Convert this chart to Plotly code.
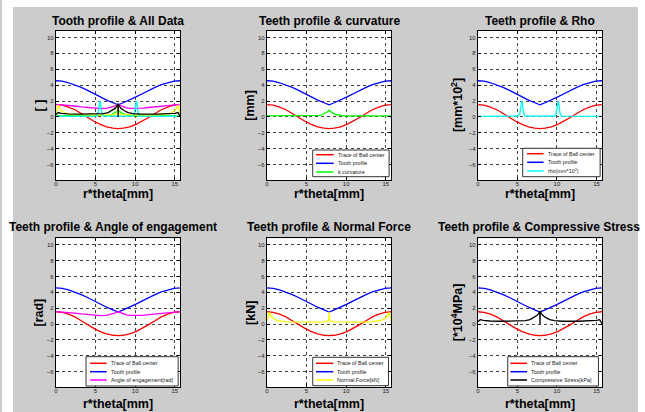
import plotly.graph_objects as go

W, H = 645, 412

# ---------------- data ----------------
x_ball = [0, 0.8, 1.6, 2.4, 3.2, 4.0, 4.8, 5.6, 6.4, 7.2, 7.85, 8.5, 9.3, 10.1, 10.9, 11.7, 12.5, 13.3, 14.1, 14.9, 15.71]
y_ball = [1.55, 1.47, 1.24, 0.9, 0.42, -0.08, -0.55, -0.95, -1.25, -1.42, -1.47, -1.42, -1.25, -0.95, -0.55, -0.08, 0.42, 0.9, 1.24, 1.47, 1.55]

x_tooth = [0, 0.8, 1.6, 2.4, 3.2, 4.0, 4.8, 5.6, 6.4, 7.2, 7.85, 8.5, 9.3, 10.1, 10.9, 11.7, 12.5, 13.3, 14.1, 14.9, 15.71]
y_tooth = [4.55, 4.5, 4.3, 4.05, 3.72, 3.35, 2.92, 2.52, 2.12, 1.78, 1.52, 1.78, 2.12, 2.52, 2.92, 3.35, 3.72, 4.05, 4.3, 4.5, 4.55]

x_curv = [0, 2, 4, 6, 6.6, 7.0, 7.4, 7.7, 7.85, 8.0, 8.3, 8.7, 9.1, 9.7, 11.7, 13.7, 15.71]
y_curv = [0.12, 0.12, 0.12, 0.14, 0.2, 0.3, 0.48, 0.68, 0.85, 0.68, 0.48, 0.3, 0.2, 0.14, 0.12, 0.12, 0.12]

x_rho = [0, 2, 4, 5.1, 5.3, 5.42, 5.5, 5.55, 5.6, 5.68, 5.8, 6.0, 7.85,
         9.7, 9.9, 10.02, 10.1, 10.15, 10.2, 10.28, 10.4, 10.6, 12, 14, 15.71]
y_rho = [0.07, 0.07, 0.07, 0.1, 0.4, 1.3, 1.9, 2.0, 1.9, 1.3, 0.4, 0.1, 0.07,
         0.1, 0.4, 1.3, 1.9, 2.0, 1.9, 1.3, 0.4, 0.1, 0.07, 0.07, 0.07]

x_angle = [0, 0.8, 1.6, 2.4, 3.2, 4.0, 4.8, 5.6, 6.4, 6.9, 7.4, 7.85, 8.3, 8.8, 9.3, 10.1, 10.9, 11.7, 12.5, 13.3, 14.1, 14.9, 15.71]
y_angle = [1.57, 1.53, 1.46, 1.37, 1.27, 1.18, 1.1, 1.06, 1.08, 1.18, 1.36, 1.57, 1.36, 1.18, 1.08, 1.06, 1.1, 1.18, 1.27, 1.37, 1.46, 1.53, 1.57]

x_force = [0, 0.3, 0.5, 0.8, 1.2, 1.7, 2.5, 4, 6, 7.3, 7.7, 7.8, 7.85, 7.9, 8.0, 8.4, 9.7, 11.7, 13.2, 14.0, 14.5, 14.9, 15.2, 15.4, 15.71]
y_force = [0.35, 1.5, 1.05, 0.7, 0.48, 0.36, 0.28, 0.24, 0.24, 0.26, 0.4, 0.6, 1.55, 0.6, 0.4, 0.26, 0.24, 0.24, 0.28, 0.36, 0.48, 0.7, 1.05, 1.5, 0.35]

x_stress = [0, 0.3, 0.7, 1.5, 3, 5, 6, 6.6, 7.1, 7.5, 7.7, 7.83, 7.854, 7.88, 8.0, 8.2, 8.6, 9.1, 9.7, 10.7, 12.7, 14.2, 15.0, 15.4, 15.71]
y_stress = [0.3, 0.55, 0.45, 0.38, 0.35, 0.35, 0.42, 0.55, 0.8, 1.1, 1.35, 1.65, 0.0, 1.65, 1.35, 1.1, 0.8, 0.55, 0.42, 0.35, 0.35, 0.38, 0.45, 0.55, 0.0]

x_ticks = [0, 5, 10, 15]
y_ticks = [-6, -4, -2, 0, 2, 4, 6, 8, 10]

titles = ["Tooth profile & All Data", "Teeth profile & curvature", "Teeth profile & Rho",
          "Teeth profile & Angle of engagement", "Teeth profile & Normal Force",
          "Teeth profile & Compressive Stress"]
ylabels = ["[ ]", "[mm]", "[mm*10<sup>2</sup>]", "[rad]", "[kN]", "[*10<sup>4</sup>MPa]"]
xlabel = "r*theta[mm]"

series = {
    "ball": (x_ball, y_ball, "#ff0000", "Trace of Ball center"),
    "tooth": (x_tooth, y_tooth, "#0000ff", "Tooth profile"),
    "curv": (x_curv, y_curv, "#00ff00", "k curvature"),
    "rho": (x_rho, y_rho, "#00ffff", "rho(mm*10<sup>2</sup>)"),
    "angle": (x_angle, y_angle, "#ff00ff", "Angle of engagement[rad]"),
    "force": (x_force, y_force, "#ffff00", "Normal Force[kN]"),
    "stress": (x_stress, y_stress, "#000000", "Compressive Stress[kPa]"),
}
panel_series = [
    ["ball", "tooth", "angle", "curv", "force", "rho", "stress"],
    ["ball", "tooth", "curv"],
    ["ball", "tooth", "rho"],
    ["ball", "tooth", "angle"],
    ["ball", "tooth", "force"],
    ["ball", "tooth", "stress"],
]

# ---------------- layout geometry (pixels) ----------------
cols_px = [(54, 179), (265.7, 390.7), (477.3, 602)]
rows_px = [(31, 180), (238.3, 387)]
title_cx = [116.5, 328.2, 539.5, 111, 328, 538.7]
title_cy = [20.7, 226.7]
xlab_cy = [194, 403.5]
ylab_cx = [39, 249, 457, 37, 249, 456]

legends = {
    1: dict(box=(311.7, 150, 388.3, 176.7), rows=[154.7, 163.3, 172], line=(315, 332.7), tx=334.7),
    2: dict(box=(522.3, 148.3, 600, 176.7), rows=[153.7, 162.3, 171], line=(526.7, 543.3), tx=545.7),
    3: dict(box=(84.3, 356.7, 176.7, 386), rows=[363.3, 371.7, 380], line=(88.3, 105), tx=107.3),
    4: dict(box=(311.7, 357.3, 387.7, 385.7), rows=[363.3, 371.7, 380], line=(315, 332.3), tx=334.3),
    5: dict(box=(507.3, 356.7, 598.3, 386), rows=[363.3, 371.7, 380], line=(510, 526.7), tx=529),
}


def px(x):
    return x / W


def py(y):
    return 1 - y / H


FONT = "Liberation Sans, Arial, sans-serif"
fig = go.Figure()
shapes = []
annotations = []

for i in range(6):
    r, c = divmod(i, 3)
    sx = "" if i == 0 else str(i + 1)
    xa, ya = "x" + sx, "y" + sx
    for key in panel_series[i]:
        xs, ys, col, name = series[key]
        fig.add_trace(go.Scatter(x=xs, y=ys, mode="lines", line=dict(color=col, width=1.3),
                                 xaxis=xa, yaxis=ya, showlegend=False, hoverinfo="skip"))
    x0, x1 = cols_px[c]
    y0, y1 = rows_px[r]
    axis_common = dict(showline=True, linecolor="black", linewidth=1, mirror="ticks",
                       ticks="inside", ticklen=3, tickcolor="black", showgrid=True,
                       gridcolor="#444444", griddash="dot", gridwidth=1, zeroline=False,
                       tickfont=dict(family=FONT, size=6, color="#222222"))
    fig.update_layout(**{
        "xaxis" + sx: dict(domain=[px(x0), px(x1)], range=[0, 15.708], tickvals=x_ticks,
                           anchor=ya, ticklabelstandoff=-2, **axis_common),
        "yaxis" + sx: dict(domain=[py(y1), py(y0)], range=[-7.95, 10.82], tickvals=y_ticks,
                           anchor=xa, **axis_common),
    })
    cx = (x0 + x1) / 2
    cy = (y0 + y1) / 2
    annotations.append(dict(text="<b>%s</b>" % titles[i], x=px(title_cx[i]), y=py(title_cy[r]),
                            xref="paper", yref="paper", showarrow=False, xanchor="center",
                            yanchor="middle", font=dict(family=FONT, size=12, color="black")))
    annotations.append(dict(text="<b>%s</b>" % xlabel, x=px(cx), y=py(xlab_cy[r]),
                            xref="paper", yref="paper", showarrow=False, xanchor="center",
                            yanchor="middle", font=dict(family=FONT, size=12.5, color="black")))
    annotations.append(dict(text="<b>%s</b>" % ylabels[i], x=px(ylab_cx[i]), y=py(cy),
                            xref="paper", yref="paper", showarrow=False, xanchor="center",
                            yanchor="middle", textangle=-90,
                            font=dict(family=FONT, size=12.5, color="black")))
    if i in legends:
        L = legends[i]
        bx0, by0, bx1, by1 = L["box"]
        shapes.append(dict(type="rect", xref="paper", yref="paper", x0=px(bx0), x1=px(bx1),
                           y0=py(by1), y1=py(by0), fillcolor="white",
                           line=dict(color="#333333", width=1), layer="above"))
        for k, key in enumerate(panel_series[i]):
            _, _, col, name = series[key]
            ry = L["rows"][k]
            shapes.append(dict(type="line", xref="paper", yref="paper", x0=px(L["line"][0]),
                               x1=px(L["line"][1]), y0=py(ry), y1=py(ry),
                               line=dict(color=col, width=1.5), layer="above"))
            annotations.append(dict(text=name, x=px(L["tx"]), y=py(ry), xref="paper",
                                    yref="paper", showarrow=False, xanchor="left",
                                    yanchor="middle",
                                    font=dict(family=FONT, size=5.4, color="#222222")))

# white strips around the gray figure area
for (a0, a1, b0, b1) in [(0, 11, 0, H), (0, W, 0, 7), (638, W, 0, H)]:
    shapes.append(dict(type="rect", xref="paper", yref="paper", x0=px(a0), x1=px(a1),
                       y0=py(b1), y1=py(b0), fillcolor="white", line=dict(width=0),
                       layer="below"))

fig.update_layout(width=W, height=H, autosize=False, margin=dict(l=0, r=0, t=0, b=0),
                  paper_bgcolor="#cccccc", plot_bgcolor="white", showlegend=False,
                  shapes=shapes, annotations=annotations)

fig.write_html("out.html", config={"displayModeBar": False},
               post_script="document.body.style.margin='0';document.body.style.overflow='hidden';")
